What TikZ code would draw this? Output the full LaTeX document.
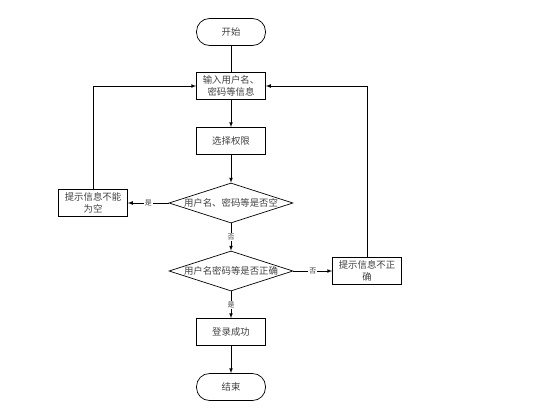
\documentclass[tikz,border=0pt]{standalone}
\usepackage{fontspec}
\newfontfamily\cjk{Noto Sans CJK SC}
\usetikzlibrary{shapes.geometric}
\begin{document}
\begin{tikzpicture}[x=1pt, y=-1pt, >=latex, line width=0.7pt,
  font=\cjk\fontsize{9.4}{12}\selectfont,
  term/.style={draw, rectangle, rounded corners=13pt, minimum width=69pt, minimum height=27pt, text=black!75},
  proc/.style={draw, rectangle, minimum width=69pt, minimum height=27pt, inner sep=1pt, align=center, text=black!75},
  decide/.style={draw, diamond, minimum width=124pt, minimum height=40pt, inner sep=0pt},
  lbl/.style={fill=white, inner sep=1pt, text=black!75, font=\cjk\fontsize{7}{8}\selectfont}]
  \useasboundingbox (0,0) rectangle (534,410);
  \node[term] (start) at (231,32) {开始};
  \node[proc] (input) at (231,86) {输入用户名、\\密码等信息};
  \node[proc] (perm) at (231,141) {选择权限};
  \node[decide, label={[text=black!75]center:用户名、密码等是否空}] (chk1) at (231,203) {};
  \node[proc] (empty) at (93,203) {提示信息不能\\为空};
  \node[decide, label={[text=black!75]center:用户名密码等是否正确}] (chk2) at (231,271) {};
  \node[proc] (wrong) at (367,271) {提示信息不正\\确};
  \node[proc] (ok) at (231,332) {登录成功};
  \node[term] (stop) at (231,387) {结束};
  \draw (start) -- (input);
  \draw[->] (input) -- (perm);
  \draw[->] (perm) -- (chk1);
  \draw[->] (chk1) -- node[lbl] {是} (empty);
  \draw[->] (chk1) -- node[lbl] {否} (chk2);
  \draw[->] (chk2) -- node[lbl] {否} (wrong);
  \draw[->] (chk2) -- node[lbl] {是} (ok);
  \draw[->] (ok) -- (stop);
  \draw[->] (empty.north) |- (input.west);
  \draw[->] (wrong.north) |- (input.east);
\end{tikzpicture}
\end{document}
